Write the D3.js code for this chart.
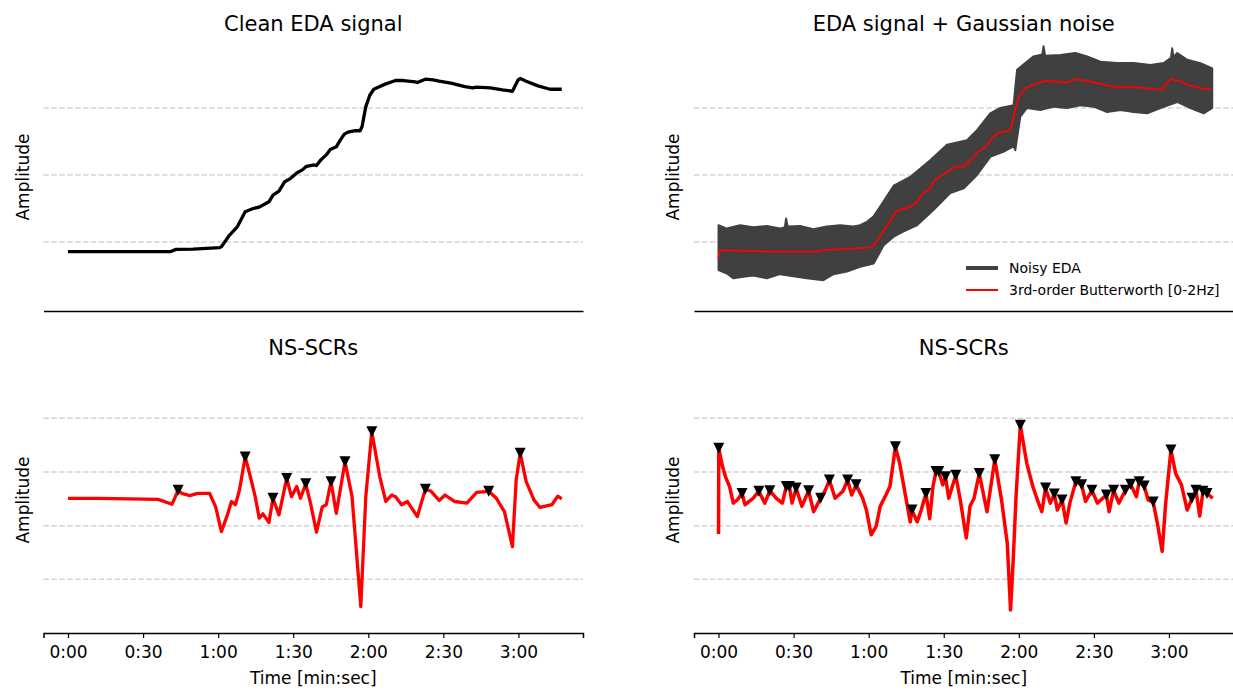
<!doctype html>
<html>
  <head>
    <meta charset="utf-8">
    <title>EDA signal</title>
    <script src="https://cdnjs.cloudflare.com/ajax/libs/d3/7.8.5/d3.min.js"></script>
    <style>
      body { margin: 0; background: #fff; }
      text { font-family: "DejaVu Sans", sans-serif; fill: #000; }
    </style>
  </head>
  <body>
    <div id="chart"></div>
    <script>
    // time in seconds, amplitude in arbitrary units
    let cleanT = [0, 20, 40.8, 43.2, 50, 60.6, 61.3, 64.5, 67.7, 70.8, 74.0, 76.4, 80.3, 81.9, 84.3, 86.6, 89.0, 91.4, 93.8, 95.3, 98.5, 99.3, 100.9, 103.2, 104.8, 107.2, 108.8, 110.4, 111.9, 114.3, 116.7, 117.5, 119.0, 120.6, 122.2, 124.6, 127.0, 130.9, 134.1, 138.8, 139.6, 142.8, 145.9, 148.3, 153.0, 158.6, 161.7, 163.3, 168.8, 173.6, 177.6, 179.9, 180.7, 183.1, 187.8, 192.6, 197.3];
    let cleanV = [0.855, 0.855, 0.855, 0.89, 0.895, 0.915, 0.93, 1.10, 1.23, 1.45, 1.50, 1.52, 1.60, 1.70, 1.76, 1.90, 1.95, 2.03, 2.08, 2.13, 2.15, 2.14, 2.22, 2.30, 2.38, 2.42, 2.52, 2.61, 2.64, 2.66, 2.66, 2.72, 3.02, 3.19, 3.28, 3.32, 3.36, 3.41, 3.41, 3.39, 3.38, 3.43, 3.42, 3.40, 3.37, 3.32, 3.30, 3.31, 3.30, 3.27, 3.25, 3.42, 3.44, 3.40, 3.33, 3.28, 3.28];

    // upper and lower edge of the noisy band
    let noisyUpT = [0, 3.3, 8.6, 13.9, 19.3, 24.6, 26.5, 27.0, 27.6, 32.6, 37.9, 43.3, 48.6, 53.9, 56.6, 59.3, 61.9, 64.6, 70.0, 76.6, 84.6, 91.3, 99.3, 103.3, 108.6, 112.6, 117.9, 119.3, 122.6, 125.9, 129.4, 129.9, 130.5, 136.6, 142.6, 147.3, 152.6, 159.3, 165.9, 172.6, 177.9, 180.8, 181.3, 181.8, 183.3, 187.3, 192.6, 197.3];
    let noisyUpV = [1.25, 1.20, 1.25, 1.22, 1.24, 1.20, 1.22, 1.35, 1.23, 1.24, 1.19, 1.23, 1.25, 1.23, 1.25, 1.30, 1.38, 1.53, 1.84, 1.97, 2.22, 2.45, 2.52, 2.67, 2.92, 3.00, 3.04, 3.57, 3.67, 3.77, 3.80, 3.92, 3.78, 3.79, 3.82, 3.77, 3.69, 3.67, 3.67, 3.64, 3.67, 3.75, 3.89, 3.76, 3.82, 3.72, 3.67, 3.59];
    let noisyLoT = [0, 3.3, 5.9, 9.9, 13.9, 19.3, 24.6, 29.9, 35.3, 41.9, 45.9, 51.3, 56.6, 62.0, 66.0, 70.0, 74.0, 79.3, 86.0, 92.6, 98.0, 103.3, 108.6, 114.0, 118.0, 118.6, 120.6, 123.3, 128.6, 134.0, 139.3, 144.6, 149.9, 155.3, 160.6, 165.9, 171.3, 176.6, 183.3, 188.6, 193.9, 197.3];
    let noisyLoV = [0.58, 0.53, 0.46, 0.48, 0.50, 0.46, 0.52, 0.49, 0.46, 0.43, 0.52, 0.56, 0.63, 0.68, 0.95, 1.08, 1.16, 1.25, 1.48, 1.73, 1.80, 2.00, 2.27, 2.35, 2.43, 2.37, 2.87, 3.00, 2.97, 3.02, 3.00, 3.04, 3.02, 2.94, 2.97, 2.94, 2.92, 3.00, 3.09, 3.00, 2.92, 3.00];

    let filtT = [0, 0.5, 7.5, 23.2, 38.8, 41.9, 54.4, 60.7, 62.2, 65.4, 68.5, 70.8, 73.2, 76.3, 79.4, 81.8, 84.1, 86.5, 89.6, 92.7, 95.1, 98.2, 100.6, 103.7, 106.8, 109.2, 111.5, 113.8, 116.2, 117.0, 118.5, 120.1, 122.4, 126.4, 130.3, 134.2, 138.9, 142.8, 146.7, 152.9, 157.6, 163.9, 170.1, 177.2, 179.5, 181.1, 184.2, 188.9, 193.6, 196.7];
    let filtV = [0.76, 0.88, 0.87, 0.855, 0.855, 0.88, 0.905, 0.92, 0.955, 1.13, 1.30, 1.45, 1.49, 1.52, 1.60, 1.73, 1.78, 1.93, 2.00, 2.08, 2.13, 2.13, 2.22, 2.35, 2.42, 2.55, 2.62, 2.65, 2.66, 2.72, 2.97, 3.17, 3.29, 3.36, 3.40, 3.40, 3.38, 3.43, 3.41, 3.36, 3.32, 3.31, 3.30, 3.27, 3.39, 3.43, 3.40, 3.33, 3.29, 3.28];

    let scrT = [0, 12.3, 36.0, 41.6, 44.0, 45.5, 48.7, 51.8, 56.6, 59.0, 61.3, 63.7, 65.3, 66.9, 68.5, 70.8, 73.2, 74.8, 76.4, 77.9, 80.3, 81.9, 84.3, 87.4, 89.3, 91.4, 92.9, 95.0, 96.9, 99.3, 101.6, 103.2, 105.1, 107.2, 110.7, 113.5, 117.0, 119.0, 121.4, 124.6, 127.0, 129.3, 130.9, 133.3, 135.6, 139.6, 142.8, 145.1, 148.3, 150.7, 154.6, 159.4, 163.3, 168.1, 171.2, 174.4, 177.6, 179.1, 180.7, 183.1, 186.2, 188.6, 193.4, 195.7, 197.3];
    let scrV = [0.51, 0.51, 0.49, 0.40, 0.66, 0.60, 0.56, 0.60, 0.60, 0.35, -0.11, 0.20, 0.45, 0.39, 0.66, 1.28, 0.85, 0.54, 0.14, 0.22, 0.06, 0.51, 0.20, 0.88, 0.54, 0.73, 0.51, 0.78, 0.42, -0.12, 0.35, 0.39, 0.82, 0.23, 1.19, 0.54, -1.51, 0.54, 1.75, 0.91, 0.45, 0.57, 0.54, 0.39, 0.45, 0.17, 0.68, 0.64, 0.47, 0.57, 0.45, 0.42, 0.62, 0.64, 0.51, 0.26, -0.39, 0.85, 1.35, 0.82, 0.48, 0.34, 0.39, 0.55, 0.50];
    let scrPeaks = [44.0, 70.8, 81.9, 87.4, 95.0, 105.1, 110.7, 121.4, 142.8, 168.1, 180.7];

    let nscrT = [0, 0.1, 1.6, 2.8, 4.4, 5.9, 7.5, 9.4, 10.6, 13.8, 16.1, 18.5, 20.5, 23.1, 25.5, 27.1, 28.3, 29.4, 31.0, 33.3, 36.0, 38.0, 40.8, 42.7, 44.3, 46.6, 49.7, 51.6, 53.2, 55.0, 57.6, 59.1, 61.0, 63.0, 64.6, 66.9, 68.5, 70.7, 72.4, 74.8, 76.6, 77.3, 79.4, 81.0, 82.9, 84.4, 85.7, 86.9, 88.0, 89.6, 90.7, 92.0, 94.8, 96.6, 99.0, 100.5, 102.1, 104.2, 107.3, 110.4, 113.1, 115.4, 116.7, 117.7, 118.9, 120.6, 123.2, 125.6, 127.9, 129.2, 130.7, 132.6, 134.2, 135.4, 137.3, 138.9, 140.4, 142.8, 145.1, 146.7, 149.2, 151.4, 155.0, 156.1, 157.9, 160.0, 162.6, 164.7, 167.0, 168.1, 170.1, 171.7, 173.7, 175.6, 177.3, 178.7, 180.8, 182.7, 185.0, 187.3, 189.2, 190.8, 192.3, 193.6, 195.2, 197.5];
    let nscrV = [-0.155, 1.44, 1.10, 0.91, 0.73, 0.42, 0.48, 0.60, 0.39, 0.51, 0.64, 0.42, 0.65, 0.51, 0.42, 0.73, 0.73, 0.42, 0.70, 0.36, 0.65, 0.26, 0.51, 0.66, 0.85, 0.51, 0.64, 0.85, 0.57, 0.76, 0.51, 0.29, -0.17, -0.01, 0.36, 0.57, 0.73, 1.47, 1.16, 0.54, 0.07, 0.29, 0.07, 0.29, 0.60, 0.13, 0.73, 1.01, 1.01, 0.76, 0.91, 0.51, 0.94, 0.48, -0.23, 0.36, 0.51, 0.97, 0.26, 1.23, 0.48, -0.33, -1.57, -0.70, 0.54, 1.87, 1.16, 0.73, 0.42, 0.26, 0.70, 0.42, 0.59, 0.29, 0.48, 0.05, 0.42, 0.82, 0.76, 0.45, 0.66, 0.42, 0.57, 0.26, 0.66, 0.42, 0.66, 0.77, 0.54, 0.82, 0.74, 0.48, 0.44, -0.01, -0.48, 0.42, 1.41, 0.97, 0.76, 0.29, 0.51, 0.66, 0.18, 0.64, 0.60, 0.51];
    let nscrPeaks = [0.1, 9.4, 16.1, 20.5, 27.1, 28.3, 31.0, 36.0, 40.8, 44.3, 51.6, 55.0, 70.7, 77.3, 82.9, 86.9, 88.0, 90.7, 94.8, 104.2, 110.4, 120.6, 130.7, 134.2, 137.3, 142.8, 145.1, 149.2, 155.0, 157.9, 162.6, 164.7, 168.1, 170.1, 173.7, 180.8, 189.2, 190.8, 193.6, 195.2];

    let tickSecs = [0, 30, 60, 90, 120, 150, 180];
    let tickLabels = ["0:00", "0:30", "1:00", "1:30", "2:00", "2:30", "3:00"];
    let gridTop = [1, 2, 3];
    let gridBottom = [-1, 0, 1, 2];

    let svg = d3.select("#chart").append("svg")
      .attr("width", 1233)
      .attr("height", 690);

    let xLeft = d3.scaleLinear().domain([-9.8, 205.8]).range([43.5, 583]);
    let xRight = d3.scaleLinear().domain([-9.8, 205.8]).range([694, 1233.5]);
    let yTop = d3.scaleLinear().domain([-0.03, 3.97]).range([311, 43]);
    let yBottom = d3.scaleLinear().domain([-2, 2.956]).range([633, 367]);

    function zip(ts, vs) { return ts.map((t, i) => [t, vs[i]]); }

    function panel(x, y, grid, title, showTicks) {
      let g = svg.append("g");
      let [x0, x1] = x.range();
      let [yb, yt] = y.range();

      g.selectAll(".grid")
        .data(grid)
        .join("line")
        .attr("x1", x0).attr("x2", x1)
        .attr("y1", d => y(d)).attr("y2", d => y(d))
        .style("stroke", "#d3d3d3")
        .style("stroke-width", 1.5)
        .style("stroke-dasharray", "5.5,2.4");

      let axis = d3.axisBottom(x).tickSizeOuter(0);
      if (showTicks) {
        axis.tickValues(tickSecs).tickFormat((d, i) => tickLabels[i]).tickSize(5).tickPadding(8);
      } else {
        axis.tickValues([]);
      }
      let ax = g.append("g").attr("transform", `translate(0,${yb})`).call(axis);
      ax.select(".domain").style("stroke", "#000").style("stroke-width", 1.5);
      ax.selectAll(".tick line").style("stroke", "#000").style("stroke-width", 1.2);
      ax.selectAll(".tick text")
        .style("font-family", "DejaVu Sans, sans-serif")
        .style("font-size", "17px")
        .style("fill", "#000");

      g.append("text")
        .attr("x", (x0 + x1) / 2)
        .attr("y", yt - 12)
        .attr("text-anchor", "middle")
        .style("font-size", "21px")
        .text(title);

      g.append("text")
        .attr("transform", `translate(${x0 - 15},${(yb + yt) / 2}) rotate(-90)`)
        .attr("text-anchor", "middle")
        .style("font-size", "17px")
        .text("Amplitude");

      if (showTicks) {
        g.append("text")
          .attr("x", (x0 + x1) / 2)
          .attr("y", 684)
          .attr("text-anchor", "middle")
          .style("font-size", "17px")
          .text("Time [min:sec]");
      }
      return g;
    }

    function drawLine(g, x, y, pts, color, width) {
      let line = d3.line().x(d => x(d[0])).y(d => y(d[1]));
      g.append("path")
        .datum(pts)
        .attr("d", line)
        .style("fill", "none")
        .style("stroke", color)
        .style("stroke-width", width)
        .style("stroke-linejoin", "round");
    }

    function drawPeaks(g, x, y, pts, peaks) {
      // put each marker on the series point nearest to the peak time
      let marks = peaks.map(p => pts.reduce((a, b) => Math.abs(b[0] - p) < Math.abs(a[0] - p) ? b : a));
      g.selectAll(".peak")
        .data(marks)
        .join("path")
        .attr("transform", d => `translate(${x(d[0])},${y(d[1])})`)
        .attr("d", "M-5.5,-5.5L5.5,-5.5L0,5.5Z")
        .style("fill", "#000");
    }

    // top left
    let g1 = panel(xLeft, yTop, gridTop, "Clean EDA signal", false);
    drawLine(g1, xLeft, yTop, zip(cleanT, cleanV), "#000", 3.3);

    // top right
    let g2 = panel(xRight, yTop, gridTop, "EDA signal + Gaussian noise", false);
    let band = zip(noisyUpT, noisyUpV).concat(zip(noisyLoT, noisyLoV).reverse());
    let bandLine = d3.line().x(d => xRight(d[0])).y(d => yTop(d[1]));
    g2.append("path")
      .attr("d", bandLine(band) + "Z")
      .style("fill", "#404040")
      .style("stroke", "#404040")
      .style("stroke-width", 2)
      .style("stroke-linejoin", "round");
    drawLine(g2, xRight, yTop, zip(filtT, filtV), "#ff0000", 1.8);

    let legend = [
      { label: "Noisy EDA", color: "#404040", width: 4 },
      { label: "3rd-order Butterworth [0-2Hz]", color: "#ff0000", width: 2 }
    ];
    let lg = g2.append("g").attr("transform", "translate(966,268)");
    lg.selectAll("line")
      .data(legend)
      .join("line")
      .attr("x1", 0).attr("x2", 32)
      .attr("y1", (d, i) => i * 22).attr("y2", (d, i) => i * 22)
      .style("stroke", d => d.color)
      .style("stroke-width", d => d.width);
    lg.selectAll("text")
      .data(legend)
      .join("text")
      .attr("x", 43)
      .attr("y", (d, i) => i * 22 + 5)
      .style("font-size", "14px")
      .text(d => d.label);

    // bottom left
    let g3 = panel(xLeft, yBottom, gridBottom, "NS-SCRs", true);
    let scr = zip(scrT, scrV);
    drawLine(g3, xLeft, yBottom, scr, "#ff0000", 3.3);
    drawPeaks(g3, xLeft, yBottom, scr, scrPeaks);

    // bottom right
    let g4 = panel(xRight, yBottom, gridBottom, "NS-SCRs", true);
    let nscr = zip(nscrT, nscrV);
    drawLine(g4, xRight, yBottom, nscr, "#ff0000", 3.5);
    drawPeaks(g4, xRight, yBottom, nscr, nscrPeaks);
    </script>
  </body>
</html>
